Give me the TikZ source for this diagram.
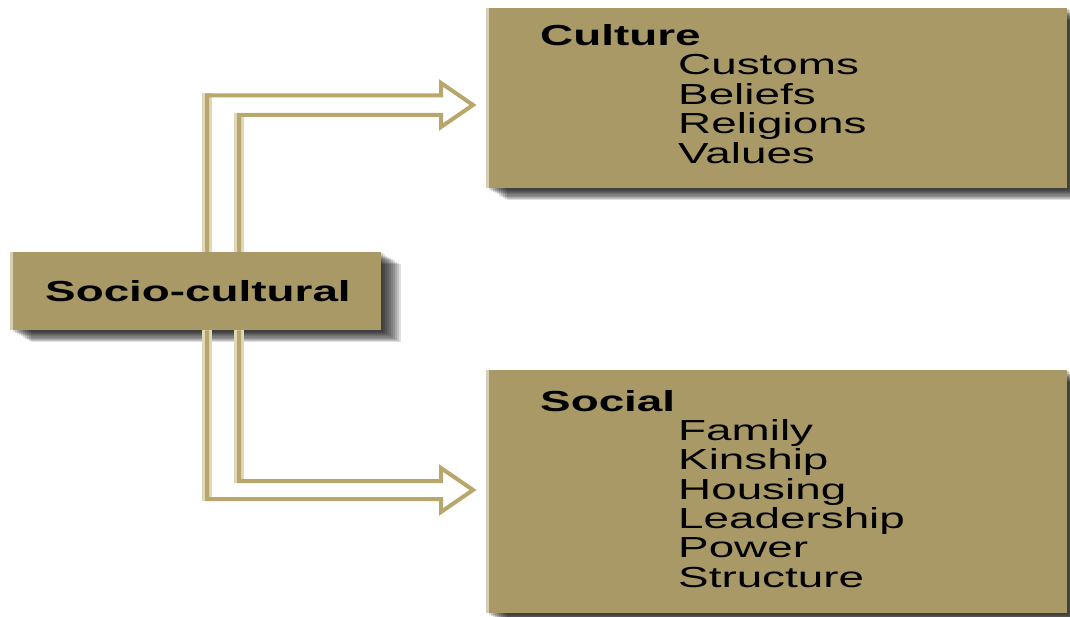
\documentclass[tikz,border=0pt]{standalone}
\usepackage{graphicx}
\usepackage{fontspec}
\setmainfont{Liberation Sans}
\usetikzlibrary{calc}
\definecolor{boxc}{RGB}{168,153,103}
\definecolor{arrowc}{RGB}{184,167,106}
\definecolor{halo}{RGB}{224,216,184}
\definecolor{paleedge}{RGB}{214,206,178}
\newcommand{\wide}[1]{\scalebox{1.58}[1]{#1}}
\tikzset{
  box/.style={draw=none, fill=boxc, rectangle, anchor=north west, inner sep=0pt},
  txt/.style={anchor=base west, inner sep=0pt, font=\fontsize{29}{29}\selectfont, text=black},
  conn/.style={draw=arrowc, line width=4pt, line join=miter},
  halostyle/.style={draw=halo, line width=10pt},
}
\newcommand{\shadowof}[1]{%
  \foreach \d in {1,...,10}{%
    \fill[black, opacity=0.13] ($(#1.north west)+(2*\d,1.2*\d)$) rectangle ($(#1.south east)+(2*\d,1.2*\d)$);
  }%
}
\begin{document}
\begin{tikzpicture}[x=1pt, y=-1pt]
\useasboundingbox (0,0) rectangle (1070,617);
\clip (0,0) rectangle (1070,617);
% box geometry
\path (11,252) node[box, minimum width=370pt, minimum height=78pt] (socio) {};
\path (487,8) node[box, minimum width=580pt, minimum height=180pt] (culture) {};
\path (487,370) node[box, minimum width=580pt, minimum height=243pt] (social) {};
% shadows, then box faces on top
\shadowof{socio}
\shadowof{culture}
\shadowof{social}
\fill[boxc] (socio.north west) rectangle (socio.south east);
\fill[boxc] (culture.north west) rectangle (culture.south east);
\fill[boxc] (social.north west) rectangle (social.south east);
\draw[paleedge, line width=3pt] (socio.north west) -- (socio.south west);
\draw[paleedge, line width=3pt] (culture.north west) -- (culture.south west);
\draw[paleedge, line width=3pt] (social.north west) -- (social.south west);
% texts
\node[txt] (tsocio) at (45,302) {\wide{\bfseries Socio-cultural}};
\node[txt] (tculture) at (540,46) {\wide{\bfseries Culture}};
\node[txt] (c1) at (678,75) {\wide{Customs}};
\node[txt] (c2) at (678,104.5) {\wide{Beliefs}};
\node[txt] (c3) at (678,134) {\wide{Religions}};
\node[txt] (c4) at (678,163.5) {\wide{Values}};
\node[txt] (tsocial) at (540,411) {\wide{\bfseries Social}};
\node[txt] (s1) at (678,440) {\wide{Family}};
\node[txt] (s2) at (678,469) {\wide{Kinship}};
\node[txt] (s3) at (678,499) {\wide{Housing}};
\node[txt] (s4) at (678,528) {\wide{Leadership}};
\node[txt] (s5) at (678,557) {\wide{Power}};
\node[txt] (s6) at (678,587) {\wide{Structure}};
% connector to Culture
\coordinate (a1) at (207,95.5);
\coordinate (a2) at (441,95.5);
\coordinate (a3) at (441,83);
\coordinate (tipA) at (473,105);
\coordinate (a5) at (441,127);
\coordinate (a6) at (441,115);
\coordinate (a7) at (239,115);
\draw[halostyle] (socio.north -| a1) -- ($(a1)+(0,-2)$);
\draw[halostyle] (socio.north -| a7) -- ($(a7)+(0,-2)$);
\draw[conn] (socio.north -| a1) -- (a1) -- (a2) -- (a3) -- (tipA) -- (a5) -- (a6) -- (a7) -- (socio.north -| a7);
% connector to Social
\coordinate (b1) at (207,499);
\coordinate (b2) at (441,499);
\coordinate (b3) at (441,512);
\coordinate (tipB) at (473,490);
\coordinate (b5) at (441,468);
\coordinate (b6) at (441,481);
\coordinate (b7) at (239,481);
\draw[halostyle] (socio.south -| b1) -- ($(b1)+(0,2)$);
\draw[halostyle] (socio.south -| b7) -- ($(b7)+(0,2)$);
\draw[conn] (socio.south -| b1) -- (b1) -- (b2) -- (b3) -- (tipB) -- (b5) -- (b6) -- (b7) -- (socio.south -| b7);
\end{tikzpicture}
\end{document}
